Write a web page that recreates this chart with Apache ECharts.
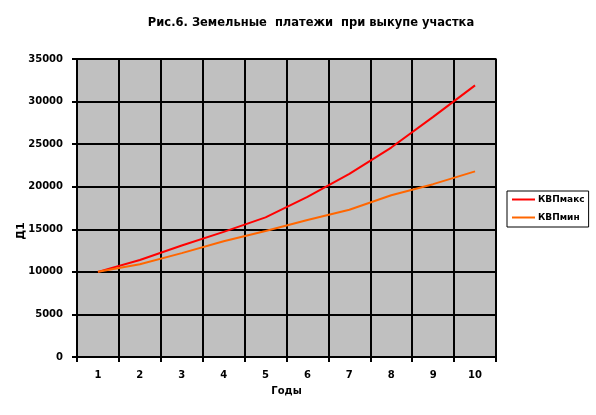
<!DOCTYPE html>
<html><head><meta charset="utf-8">
<script src="https://cdn.jsdelivr.net/npm/echarts@6/dist/echarts.min.js"></script>
<style>html,body{margin:0;padding:0;background:#fff}#c{width:596px;height:415px}</style>
</head><body><div id="c"></div>
<script>
const categories = ['1','2','3','4','5','6','7','8','9','10'];
const kvpMax = [10000, 11400, 13100, 14700, 16400, 18800, 21500, 24600, 28200, 31900];
const kvpMin = [10000, 10900, 12200, 13600, 14800, 16100, 17300, 19000, 20300, 21800];
const seriesNames = ['КВПмакс', 'КВПмин'];
const titleText = 'Рис.6. Земельные  платежи  при выкупе участка';
const xName = 'Годы';
const yName = 'Д1';

const font = '"DejaVu Sans", sans-serif';
const chart = echarts.init(document.getElementById('c'), null, {renderer: 'canvas'});
chart.setOption({
  animation: false,
  title: {text: titleText, left: 306, top: 12, textAlign: 'center',
    textStyle: {fontFamily: font, fontSize: 11.5, fontWeight: 'bold', color: '#000'}},
  grid: {left: 77, top: 59, right: 100, bottom: 58, show: true, outerBoundsMode: 'none', containLabel: false,
    backgroundColor: '#c0c0c0', borderColor: '#808080', borderWidth: 2},
  legend: {orient: 'vertical', left: 507, top: 191,
    borderColor: '#000', borderWidth: 1, padding: [4, 4, 5, 5], itemGap: 9,
    itemWidth: 23, itemHeight: 2, icon: 'rect',
    textStyle: {fontFamily: font, fontSize: 9, fontWeight: 'bold', color: '#000', padding: [0,0,0,-2]},
    data: seriesNames},
  xAxis: {type: 'category', data: categories, boundaryGap: true,
    name: xName, nameLocation: 'middle', nameGap: 29,
    nameTextStyle: {fontFamily: font, fontSize: 10, fontWeight: 'bold', color: '#000'},
    axisLine: {lineStyle: {color: '#000', width: 2}},
    axisTick: {show: true, length: 5, lineStyle: {color: '#000', width: 2}},
    axisLabel: {fontFamily: font, fontSize: 10, fontWeight: 'bold', color: '#000', margin: 13},
    splitLine: {show: true, lineStyle: {color: '#000', width: 2}}},
  yAxis: {type: 'value', min: 0, max: 35000, interval: 5000,
    name: yName, nameLocation: 'middle', nameGap: 50, nameRotate: 90, nameMoveOverlap: false,
    nameTextStyle: {fontFamily: font, fontSize: 11, fontWeight: 'bold', color: '#000', padding: [0, 46, 0, 0]},
    axisLine: {show: true, lineStyle: {color: '#000', width: 2}},
    axisTick: {show: true, length: 5, lineStyle: {color: '#000', width: 2}},
    axisLabel: {fontFamily: font, fontSize: 10, fontWeight: 'bold', color: '#000', margin: 14,
      formatter: v => String(v)},
    splitLine: {show: true, lineStyle: {color: '#000', width: 2}}},
  series: [
    {name: seriesNames[0], type: 'line', data: kvpMax, symbol: 'none',
     lineStyle: {color: '#ff0000', width: 2}, itemStyle: {color: '#ff0000'}},
    {name: seriesNames[1], type: 'line', data: kvpMin, symbol: 'none',
     lineStyle: {color: '#ff6600', width: 2}, itemStyle: {color: '#ff6600'}}
  ]
});
</script></body></html>
